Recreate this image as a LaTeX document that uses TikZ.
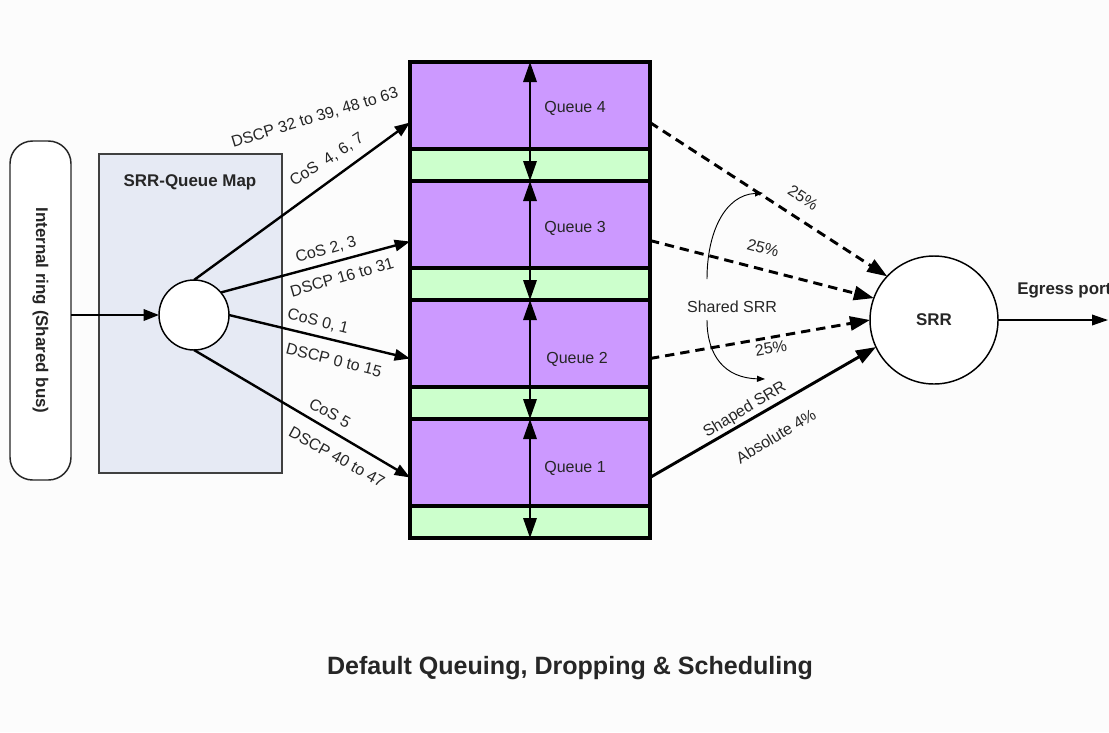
\documentclass[tikz,border=0pt]{standalone}
\usepackage{fontspec}
\setmainfont{Liberation Sans}
\usetikzlibrary{arrows.meta,calc}
\definecolor{bgcol}{HTML}{FCFCFC}
\definecolor{qpurple}{HTML}{CC99FF}
\definecolor{qgreen}{HTML}{CCFFCC}
\definecolor{mapfill}{HTML}{E6EAF4}
\definecolor{txt}{HTML}{262626}
\begin{document}
\begin{tikzpicture}[x=0.75pt,y=-0.75pt,
  lbl/.style={font=\fontsize{12}{14}\selectfont, text=txt, inner sep=1pt},
  blbl/.style={font=\fontsize{12.7}{15}\selectfont\bfseries, text=txt, inner sep=1pt},
  ringbox/.style={draw=black!85, line width=1.1pt, fill=white, rounded corners=17pt,
    minimum width=45.75pt, minimum height=254.25pt, inner sep=0pt, outer sep=0pt},
  mapbox/.style={draw=black!75, line width=1.1pt, fill=mapfill,
    minimum width=137.25pt, minimum height=239.25pt, inner sep=0pt, outer sep=0pt},
  hub/.style={circle, draw=black, line width=1.1pt, fill=white, minimum size=52.5pt, inner sep=0pt, outer sep=0pt},
  sched/.style={circle, draw=black, line width=1.1pt, fill=white, minimum size=96pt, inner sep=0pt, outer sep=0pt},
  purplebox/.style={draw=black, line width=2.5pt, fill=qpurple,
    minimum width=180pt, minimum height=65.25pt, inner sep=0pt, outer sep=0pt},
  greenbox/.style={draw=black, line width=2.5pt, fill=qgreen,
    minimum width=180pt, minimum height=24pt, inner sep=0pt, outer sep=0pt},
  maparrow/.style={line width=1.8pt, -{Triangle[length=11.5pt,width=8.5pt]}},
  vdbl/.style={line width=1.7pt, {Triangle[length=15pt,width=10pt]}-{Triangle[length=15pt,width=10pt]}},
  dasharrow/.style={line width=2.2pt, dash pattern=on 7pt off 4.5pt, -{Triangle[length=15pt,width=10.5pt]}},
  solidarrow/.style={line width=2.2pt, -{Triangle[length=15pt,width=10.5pt]}},
  thinarrow/.style={line width=0.7pt, -{Triangle[length=6pt,width=4.5pt]}},
  egressarrow/.style={line width=1.1pt, -{Triangle[length=12pt,width=8pt]}}
]
\useasboundingbox (0,0) rectangle (1109,732);
\fill[bgcol] (0,0) rectangle (1109,732);

% input ring and classification map
\node[ringbox] (ring) at (40.5,310.5) {};
\node[blbl, rotate=-90] (ringtext) at (ring.center) {Internal ring (Shared bus)};
\node[mapbox] (map) at (190.5,313.5) {};
\node[blbl] (maptitle) at (190,182) {SRR-Queue Map};
\node[hub] (circ) at (194,315) {};
\draw[maparrow] (ring.east |- circ.west) -- (circ.west);

% the four queues with their thresholds
\foreach \n/\t in {4/62,3/181,2/300,1/419} {
  \node[purplebox] (q\n) at (530,\t+43.5) {};
  \node[greenbox] (g\n) at (530,\t+103) {};
}
\foreach \n in {4,3,2,1} {
  \draw[vdbl] (q\n.north) -- (g\n.south);
}
\node[lbl] (ql4) at (575,108) {Queue 4};
\node[lbl] (ql3) at (575,228) {Queue 3};
\node[lbl] (ql2) at (577,359) {Queue 2};
\node[lbl] (ql1) at (575,468) {Queue 1};

% queue entry and exit points
\coordinate (in4) at ($(q4.west)+(0,17)$);
\coordinate (in3) at ($(q3.west)+(0,17)$);
\coordinate (in2) at ($(q2.west)+(0,15)$);
\coordinate (in1) at ($(q1.west)+(0,15)$);
\coordinate (out4) at ($(q4.east)+(0,17)$);
\coordinate (out3) at ($(q3.east)+(0,16)$);
\coordinate (out2) at ($(q2.east)+(0,15)$);
\coordinate (out1) at ($(q1.east)+(0,15)$);

% mapping arrows
\draw[maparrow] (circ.north) -- (in4);
\draw[maparrow] (circ.40) -- (in3);
\draw[maparrow] (circ.east) -- (in2);
\draw[maparrow] (circ.south) -- (in1);

\node[lbl, rotate=17] (m4a) at (315,118) {DSCP 32 to 39, 48 to 63};
\node[lbl, rotate=33] (m4b) at (327,160) {CoS\ \ 4, 6, 7};
\node[lbl, rotate=16] (m3a) at (326,250) {CoS 2, 3};
\node[lbl, rotate=16] (m3b) at (342,277) {DSCP 16 to 31};
\node[lbl, rotate=-14] (m2a) at (318,322) {CoS 0, 1};
\node[lbl, rotate=-14] (m2b) at (334,360) {DSCP 0 to 15};
\node[lbl, rotate=-29] (m1a) at (330,413) {CoS 5};
\node[lbl, rotate=-29] (m1b) at (337,457) {DSCP 40 to 47};

% scheduler
\node[sched] (srr) at (934,320) {};
\node[blbl] (srrtext) at (srr.center) {SRR};
\draw[dasharrow] (out4) -- (srr.137);
\draw[dasharrow] (out3) -- (srr.160);
\draw[dasharrow] (out2) -- (srr.west);
\draw[solidarrow] (out1) -- (srr.205);

\node[lbl, rotate=-33] (p4) at (803,198) {25\%};
\node[lbl, rotate=-15] (p3) at (763,248) {25\%};
\node[lbl, rotate=10] (p2) at (771,348) {25\%};
\node[lbl, rotate=31] (shaped) at (745,410) {Shaped SRR};
\node[lbl, rotate=31] (abs) at (776,436) {Absolute 4\%};

\node[lbl] (shared) at (732,307) {Shared SRR};
\coordinate (su0) at (707,279);
\coordinate (su1) at (763,193);
\coordinate (sd0) at (707,320);
\coordinate (sd1) at (765,379);
\draw[thinarrow] (su0) .. controls (707,232) and (725,195) .. (su1);
\draw[thinarrow] (sd0) .. controls (707,356) and (725,378) .. (sd1);

% egress
\coordinate (egress) at (1108,320);
\draw[egressarrow] (srr.east) -- (egress);
\node[blbl, anchor=west, inner sep=0pt] (egtext) at (1017,290) {Egress port};

% caption
\node[font=\fontsize{18.8}{22}\selectfont\bfseries, text=txt] (caption) at (570,668) {Default Queuing, Dropping \& Scheduling};
\end{tikzpicture}
\end{document}
